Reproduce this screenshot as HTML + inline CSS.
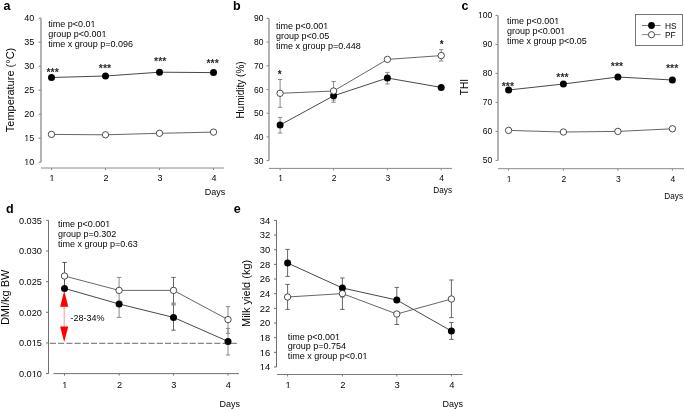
<!DOCTYPE html>
<html><head><meta charset="utf-8"><style>
html,body{margin:0;padding:0;background:#fff;}
svg{display:block;font-family:"Liberation Sans", sans-serif;will-change:transform;}
</style></head><body>
<svg width="685" height="410" viewBox="0 0 685 410">
<rect width="685" height="410" fill="#fff"/>
<line x1="41.00" y1="18.20" x2="41.00" y2="162.20" stroke="#8a8a8a" stroke-width="1.3" />
<line x1="38.50" y1="162.20" x2="41.00" y2="162.20" stroke="#8a8a8a" stroke-width="1" />
<text x="34.20" y="165.39" font-size="9" text-anchor="end" font-weight="normal" fill="#050505"  class="nf">10</text>
<line x1="38.50" y1="138.20" x2="41.00" y2="138.20" stroke="#8a8a8a" stroke-width="1" />
<text x="34.20" y="141.39" font-size="9" text-anchor="end" font-weight="normal" fill="#050505"  class="nf">15</text>
<line x1="38.50" y1="114.20" x2="41.00" y2="114.20" stroke="#8a8a8a" stroke-width="1" />
<text x="34.20" y="117.39" font-size="9" text-anchor="end" font-weight="normal" fill="#050505" >20</text>
<line x1="38.50" y1="90.20" x2="41.00" y2="90.20" stroke="#8a8a8a" stroke-width="1" />
<text x="34.20" y="93.39" font-size="9" text-anchor="end" font-weight="normal" fill="#050505" >25</text>
<line x1="38.50" y1="66.20" x2="41.00" y2="66.20" stroke="#8a8a8a" stroke-width="1" />
<text x="34.20" y="69.39" font-size="9" text-anchor="end" font-weight="normal" fill="#050505" >30</text>
<line x1="38.50" y1="42.20" x2="41.00" y2="42.20" stroke="#8a8a8a" stroke-width="1" />
<text x="34.20" y="45.39" font-size="9" text-anchor="end" font-weight="normal" fill="#050505" >35</text>
<line x1="38.50" y1="18.20" x2="41.00" y2="18.20" stroke="#8a8a8a" stroke-width="1" />
<text x="34.20" y="21.39" font-size="9" text-anchor="end" font-weight="normal" fill="#050505" >40</text>
<line x1="41.00" y1="168.00" x2="224.00" y2="168.00" stroke="#8a8a8a" stroke-width="1" />
<line x1="51.50" y1="168.00" x2="51.50" y2="170.00" stroke="#8a8a8a" stroke-width="1" />
<text x="51.90" y="181.00" font-size="9" text-anchor="middle" font-weight="normal" fill="#050505"  class="nf">1</text>
<line x1="105.50" y1="168.00" x2="105.50" y2="170.00" stroke="#8a8a8a" stroke-width="1" />
<text x="105.90" y="181.00" font-size="9" text-anchor="middle" font-weight="normal" fill="#050505" >2</text>
<line x1="159.50" y1="168.00" x2="159.50" y2="170.00" stroke="#8a8a8a" stroke-width="1" />
<text x="159.90" y="181.00" font-size="9" text-anchor="middle" font-weight="normal" fill="#050505" >3</text>
<line x1="213.50" y1="168.00" x2="213.50" y2="170.00" stroke="#8a8a8a" stroke-width="1" />
<text x="213.90" y="181.00" font-size="9" text-anchor="middle" font-weight="normal" fill="#050505" >4</text>
<text x="225.30" y="194.60" font-size="9" text-anchor="end" font-weight="normal" fill="#050505" >Days</text>
<text x="0" y="0" font-size="11" text-anchor="middle" fill="#050505" transform="translate(14.40,90.00) rotate(-90)">Temperature (°C)</text>
<text x="3.60" y="9.90" font-size="12.5" text-anchor="start" font-weight="bold" fill="#000" >a</text>
<text x="48.30" y="27.20" font-size="9" text-anchor="start" font-weight="normal" fill="#050505"  class="nf">time p&lt;0.01</text>
<text x="48.30" y="37.10" font-size="9" text-anchor="start" font-weight="normal" fill="#050505"  class="nf">group p&lt;0.001</text>
<text x="48.30" y="47.00" font-size="9" text-anchor="start" font-weight="normal" fill="#050505" >time x group p=0.096</text>
<polyline points="51.50,77.50 105.50,76.00 159.50,72.20 213.50,72.60" fill="none" stroke="#333" stroke-width="0.9"/>
<polyline points="51.50,134.40 105.50,134.80 159.50,133.30 213.50,132.10" fill="none" stroke="#555" stroke-width="0.9"/>
<circle cx="51.50" cy="77.50" r="3.5" fill="#000"/>
<circle cx="105.50" cy="76.00" r="3.5" fill="#000"/>
<circle cx="159.50" cy="72.20" r="3.5" fill="#000"/>
<circle cx="213.50" cy="72.60" r="3.5" fill="#000"/>
<circle cx="51.50" cy="134.40" r="3.20" fill="#fff" stroke="#222" stroke-width="0.8"/>
<circle cx="105.50" cy="134.80" r="3.20" fill="#fff" stroke="#222" stroke-width="0.8"/>
<circle cx="159.50" cy="133.30" r="3.20" fill="#fff" stroke="#222" stroke-width="0.8"/>
<circle cx="213.50" cy="132.10" r="3.20" fill="#fff" stroke="#222" stroke-width="0.8"/>
<text x="52.60" y="75.83" font-size="10.5" text-anchor="middle" font-weight="bold" fill="#2a2a2a" >***</text>
<text x="104.95" y="72.33" font-size="10.5" text-anchor="middle" font-weight="bold" fill="#2a2a2a" >***</text>
<text x="160.20" y="65.23" font-size="10.5" text-anchor="middle" font-weight="bold" fill="#2a2a2a" >***</text>
<text x="212.60" y="67.33" font-size="10.5" text-anchor="middle" font-weight="bold" fill="#2a2a2a" >***</text>
<line x1="269.00" y1="18.40" x2="269.00" y2="160.60" stroke="#8a8a8a" stroke-width="1.3" />
<line x1="266.50" y1="160.60" x2="269.00" y2="160.60" stroke="#8a8a8a" stroke-width="1" />
<text x="263.50" y="163.62" font-size="8.5" text-anchor="end" font-weight="normal" fill="#050505" >30</text>
<line x1="266.50" y1="136.90" x2="269.00" y2="136.90" stroke="#8a8a8a" stroke-width="1" />
<text x="263.50" y="139.92" font-size="8.5" text-anchor="end" font-weight="normal" fill="#050505" >40</text>
<line x1="266.50" y1="113.20" x2="269.00" y2="113.20" stroke="#8a8a8a" stroke-width="1" />
<text x="263.50" y="116.22" font-size="8.5" text-anchor="end" font-weight="normal" fill="#050505" >50</text>
<line x1="266.50" y1="89.50" x2="269.00" y2="89.50" stroke="#8a8a8a" stroke-width="1" />
<text x="263.50" y="92.52" font-size="8.5" text-anchor="end" font-weight="normal" fill="#050505" >60</text>
<line x1="266.50" y1="65.80" x2="269.00" y2="65.80" stroke="#8a8a8a" stroke-width="1" />
<text x="263.50" y="68.82" font-size="8.5" text-anchor="end" font-weight="normal" fill="#050505" >70</text>
<line x1="266.50" y1="42.10" x2="269.00" y2="42.10" stroke="#8a8a8a" stroke-width="1" />
<text x="263.50" y="45.12" font-size="8.5" text-anchor="end" font-weight="normal" fill="#050505" >80</text>
<line x1="266.50" y1="18.40" x2="269.00" y2="18.40" stroke="#8a8a8a" stroke-width="1" />
<text x="263.50" y="21.42" font-size="8.5" text-anchor="end" font-weight="normal" fill="#050505" >90</text>
<line x1="269.00" y1="168.40" x2="452.00" y2="168.40" stroke="#8a8a8a" stroke-width="1" />
<line x1="280.10" y1="168.40" x2="280.10" y2="170.40" stroke="#8a8a8a" stroke-width="1" />
<text x="280.50" y="181.02" font-size="8.5" text-anchor="middle" font-weight="normal" fill="#050505"  class="nf">1</text>
<line x1="333.60" y1="168.40" x2="333.60" y2="170.40" stroke="#8a8a8a" stroke-width="1" />
<text x="334.00" y="181.02" font-size="8.5" text-anchor="middle" font-weight="normal" fill="#050505" >2</text>
<line x1="387.40" y1="168.40" x2="387.40" y2="170.40" stroke="#8a8a8a" stroke-width="1" />
<text x="387.80" y="181.02" font-size="8.5" text-anchor="middle" font-weight="normal" fill="#050505" >3</text>
<line x1="441.20" y1="168.40" x2="441.20" y2="170.40" stroke="#8a8a8a" stroke-width="1" />
<text x="441.60" y="181.02" font-size="8.5" text-anchor="middle" font-weight="normal" fill="#050505" >4</text>
<text x="452.00" y="193.40" font-size="8.2" text-anchor="end" font-weight="normal" fill="#050505" >Days</text>
<text x="0" y="0" font-size="10" text-anchor="middle" fill="#050505" transform="translate(244.00,90.00) rotate(-90)">Humidity (%)</text>
<text x="232.90" y="9.90" font-size="12.5" text-anchor="start" font-weight="bold" fill="#000" >b</text>
<text x="276.00" y="29.20" font-size="9" text-anchor="start" font-weight="normal" fill="#050505"  class="nf">time p&lt;0.001</text>
<text x="276.00" y="39.10" font-size="9" text-anchor="start" font-weight="normal" fill="#050505" >group p&lt;0.05</text>
<text x="276.00" y="49.00" font-size="9" text-anchor="start" font-weight="normal" fill="#050505" >time x group p=0.448</text>
<line x1="280.10" y1="79.50" x2="280.10" y2="107.30" stroke="#8a8a8a" stroke-width="1" />
<line x1="277.90" y1="79.50" x2="282.30" y2="79.50" stroke="#8a8a8a" stroke-width="1" />
<line x1="277.90" y1="107.30" x2="282.30" y2="107.30" stroke="#8a8a8a" stroke-width="1" />
<line x1="280.10" y1="117.40" x2="280.10" y2="133.00" stroke="#8a8a8a" stroke-width="1" />
<line x1="277.90" y1="117.40" x2="282.30" y2="117.40" stroke="#8a8a8a" stroke-width="1" />
<line x1="277.90" y1="133.00" x2="282.30" y2="133.00" stroke="#8a8a8a" stroke-width="1" />
<line x1="333.60" y1="81.50" x2="333.60" y2="100.00" stroke="#8a8a8a" stroke-width="1" />
<line x1="331.40" y1="81.50" x2="335.80" y2="81.50" stroke="#8a8a8a" stroke-width="1" />
<line x1="331.40" y1="100.00" x2="335.80" y2="100.00" stroke="#8a8a8a" stroke-width="1" />
<line x1="333.60" y1="91.00" x2="333.60" y2="102.20" stroke="#8a8a8a" stroke-width="1" />
<line x1="331.40" y1="91.00" x2="335.80" y2="91.00" stroke="#8a8a8a" stroke-width="1" />
<line x1="331.40" y1="102.20" x2="335.80" y2="102.20" stroke="#8a8a8a" stroke-width="1" />
<line x1="387.40" y1="72.40" x2="387.40" y2="84.00" stroke="#8a8a8a" stroke-width="1" />
<line x1="385.20" y1="72.40" x2="389.60" y2="72.40" stroke="#8a8a8a" stroke-width="1" />
<line x1="385.20" y1="84.00" x2="389.60" y2="84.00" stroke="#8a8a8a" stroke-width="1" />
<line x1="441.20" y1="49.60" x2="441.20" y2="61.00" stroke="#8a8a8a" stroke-width="1" />
<line x1="439.00" y1="49.60" x2="443.40" y2="49.60" stroke="#8a8a8a" stroke-width="1" />
<line x1="439.00" y1="61.00" x2="443.40" y2="61.00" stroke="#8a8a8a" stroke-width="1" />
<polyline points="280.10,125.00 333.60,95.80 387.40,78.00 441.20,87.40" fill="none" stroke="#333" stroke-width="0.9"/>
<polyline points="280.10,93.30 333.60,91.00 387.40,59.40 441.20,55.60" fill="none" stroke="#555" stroke-width="0.9"/>
<circle cx="280.10" cy="125.00" r="3.5" fill="#000"/>
<circle cx="333.60" cy="95.80" r="3.5" fill="#000"/>
<circle cx="387.40" cy="78.00" r="3.5" fill="#000"/>
<circle cx="441.20" cy="87.40" r="3.5" fill="#000"/>
<circle cx="280.10" cy="93.30" r="3.20" fill="#fff" stroke="#222" stroke-width="0.8"/>
<circle cx="333.60" cy="91.00" r="3.20" fill="#fff" stroke="#222" stroke-width="0.8"/>
<circle cx="387.40" cy="59.40" r="3.20" fill="#fff" stroke="#222" stroke-width="0.8"/>
<circle cx="441.20" cy="55.60" r="3.20" fill="#fff" stroke="#222" stroke-width="0.8"/>
<text x="279.80" y="78.38" font-size="10" text-anchor="middle" font-weight="bold" fill="#111" >*</text>
<text x="441.70" y="47.58" font-size="10" text-anchor="middle" font-weight="bold" fill="#111" >*</text>
<line x1="498.00" y1="15.40" x2="498.00" y2="160.40" stroke="#8a8a8a" stroke-width="1.3" />
<line x1="495.50" y1="160.40" x2="498.00" y2="160.40" stroke="#8a8a8a" stroke-width="1" />
<text x="492.30" y="163.42" font-size="8.5" text-anchor="end" font-weight="normal" fill="#050505" >50</text>
<line x1="495.50" y1="131.40" x2="498.00" y2="131.40" stroke="#8a8a8a" stroke-width="1" />
<text x="492.30" y="134.42" font-size="8.5" text-anchor="end" font-weight="normal" fill="#050505" >60</text>
<line x1="495.50" y1="102.40" x2="498.00" y2="102.40" stroke="#8a8a8a" stroke-width="1" />
<text x="492.30" y="105.42" font-size="8.5" text-anchor="end" font-weight="normal" fill="#050505" >70</text>
<line x1="495.50" y1="73.40" x2="498.00" y2="73.40" stroke="#8a8a8a" stroke-width="1" />
<text x="492.30" y="76.42" font-size="8.5" text-anchor="end" font-weight="normal" fill="#050505" >80</text>
<line x1="495.50" y1="44.40" x2="498.00" y2="44.40" stroke="#8a8a8a" stroke-width="1" />
<text x="492.30" y="47.42" font-size="8.5" text-anchor="end" font-weight="normal" fill="#050505" >90</text>
<line x1="495.50" y1="15.40" x2="498.00" y2="15.40" stroke="#8a8a8a" stroke-width="1" />
<text x="492.30" y="18.42" font-size="8.5" text-anchor="end" font-weight="normal" fill="#050505"  class="nf">100</text>
<line x1="498.00" y1="168.70" x2="684.00" y2="168.70" stroke="#8a8a8a" stroke-width="1" />
<line x1="508.60" y1="168.70" x2="508.60" y2="170.70" stroke="#8a8a8a" stroke-width="1" />
<text x="509.00" y="182.42" font-size="8.5" text-anchor="middle" font-weight="normal" fill="#050505"  class="nf">1</text>
<line x1="563.40" y1="168.70" x2="563.40" y2="170.70" stroke="#8a8a8a" stroke-width="1" />
<text x="563.80" y="182.42" font-size="8.5" text-anchor="middle" font-weight="normal" fill="#050505" >2</text>
<line x1="617.90" y1="168.70" x2="617.90" y2="170.70" stroke="#8a8a8a" stroke-width="1" />
<text x="618.30" y="182.42" font-size="8.5" text-anchor="middle" font-weight="normal" fill="#050505" >3</text>
<line x1="672.40" y1="168.70" x2="672.40" y2="170.70" stroke="#8a8a8a" stroke-width="1" />
<text x="672.80" y="182.42" font-size="8.5" text-anchor="middle" font-weight="normal" fill="#050505" >4</text>
<text x="683.00" y="199.00" font-size="8.2" text-anchor="end" font-weight="normal" fill="#050505" >Days</text>
<text x="0" y="0" font-size="10" text-anchor="middle" fill="#050505" transform="translate(468.00,87.10) rotate(-90)">THI</text>
<text x="461.60" y="10.10" font-size="12.5" text-anchor="start" font-weight="bold" fill="#000" >c</text>
<text x="507.00" y="23.80" font-size="9" text-anchor="start" font-weight="normal" fill="#050505"  class="nf">time p&lt;0.001</text>
<text x="507.00" y="33.90" font-size="9" text-anchor="start" font-weight="normal" fill="#050505"  class="nf">group p&lt;0.001</text>
<text x="507.00" y="44.00" font-size="9" text-anchor="start" font-weight="normal" fill="#050505" >time x group p&lt;0.05</text>
<polyline points="508.60,90.00 563.40,84.00 617.90,77.00 672.40,80.00" fill="none" stroke="#333" stroke-width="0.9"/>
<polyline points="508.60,130.40 563.40,132.00 617.90,131.40 672.40,128.80" fill="none" stroke="#555" stroke-width="0.9"/>
<circle cx="508.60" cy="90.00" r="3.5" fill="#000"/>
<circle cx="563.40" cy="84.00" r="3.5" fill="#000"/>
<circle cx="617.90" cy="77.00" r="3.5" fill="#000"/>
<circle cx="672.40" cy="80.00" r="3.5" fill="#000"/>
<circle cx="508.60" cy="130.40" r="3.20" fill="#fff" stroke="#222" stroke-width="0.8"/>
<circle cx="563.40" cy="132.00" r="3.20" fill="#fff" stroke="#222" stroke-width="0.8"/>
<circle cx="617.90" cy="131.40" r="3.20" fill="#fff" stroke="#222" stroke-width="0.8"/>
<circle cx="672.40" cy="128.80" r="3.20" fill="#fff" stroke="#222" stroke-width="0.8"/>
<text x="507.90" y="90.03" font-size="10.5" text-anchor="middle" font-weight="bold" fill="#2a2a2a" >***</text>
<text x="562.50" y="81.03" font-size="10.5" text-anchor="middle" font-weight="bold" fill="#2a2a2a" >***</text>
<text x="617.00" y="70.43" font-size="10.5" text-anchor="middle" font-weight="bold" fill="#2a2a2a" >***</text>
<text x="672.10" y="72.03" font-size="10.5" text-anchor="middle" font-weight="bold" fill="#2a2a2a" >***</text>
<rect x="635.5" y="14.5" width="47" height="31" fill="#fff" stroke="#555" stroke-width="0.8"/>
<line x1="642.00" y1="25.50" x2="660.60" y2="25.50" stroke="#666" stroke-width="0.9" />
<circle cx="651.50" cy="25.50" r="3.4" fill="#000"/>
<line x1="642.00" y1="34.60" x2="660.60" y2="34.60" stroke="#777" stroke-width="0.9" />
<circle cx="651.50" cy="34.70" r="3.10" fill="#fff" stroke="#222" stroke-width="0.8"/>
<text x="664.90" y="28.60" font-size="8.4" text-anchor="start" font-weight="normal" fill="#050505" >HS</text>
<text x="664.90" y="37.80" font-size="8.4" text-anchor="start" font-weight="normal" fill="#050505" >PF</text>
<line x1="48.50" y1="220.40" x2="48.50" y2="373.60" stroke="#707070" stroke-width="1" />
<line x1="46.00" y1="373.60" x2="48.50" y2="373.60" stroke="#707070" stroke-width="1" />
<text x="41.90" y="376.87" font-size="9.2" text-anchor="end" font-weight="normal" fill="#050505"  class="nf">0.010</text>
<line x1="46.00" y1="342.96" x2="48.50" y2="342.96" stroke="#707070" stroke-width="1" />
<text x="41.90" y="346.23" font-size="9.2" text-anchor="end" font-weight="normal" fill="#050505"  class="nf">0.015</text>
<line x1="46.00" y1="312.32" x2="48.50" y2="312.32" stroke="#707070" stroke-width="1" />
<text x="41.90" y="315.59" font-size="9.2" text-anchor="end" font-weight="normal" fill="#050505" >0.020</text>
<line x1="46.00" y1="281.68" x2="48.50" y2="281.68" stroke="#707070" stroke-width="1" />
<text x="41.90" y="284.95" font-size="9.2" text-anchor="end" font-weight="normal" fill="#050505" >0.025</text>
<line x1="46.00" y1="251.04" x2="48.50" y2="251.04" stroke="#707070" stroke-width="1" />
<text x="41.90" y="254.31" font-size="9.2" text-anchor="end" font-weight="normal" fill="#050505" >0.030</text>
<line x1="46.00" y1="220.40" x2="48.50" y2="220.40" stroke="#707070" stroke-width="1" />
<text x="41.90" y="223.67" font-size="9.2" text-anchor="end" font-weight="normal" fill="#050505" >0.035</text>
<line x1="53.50" y1="373.60" x2="239.00" y2="373.60" stroke="#707070" stroke-width="1" />
<line x1="64.50" y1="373.60" x2="64.50" y2="375.60" stroke="#707070" stroke-width="1" />
<text x="64.90" y="387.87" font-size="9.2" text-anchor="middle" font-weight="normal" fill="#050505"  class="nf">1</text>
<line x1="119.10" y1="373.60" x2="119.10" y2="375.60" stroke="#707070" stroke-width="1" />
<text x="119.50" y="387.87" font-size="9.2" text-anchor="middle" font-weight="normal" fill="#050505" >2</text>
<line x1="173.50" y1="373.60" x2="173.50" y2="375.60" stroke="#707070" stroke-width="1" />
<text x="173.90" y="387.87" font-size="9.2" text-anchor="middle" font-weight="normal" fill="#050505" >3</text>
<line x1="228.00" y1="373.60" x2="228.00" y2="375.60" stroke="#707070" stroke-width="1" />
<text x="228.40" y="387.87" font-size="9.2" text-anchor="middle" font-weight="normal" fill="#050505" >4</text>
<text x="240.00" y="406.60" font-size="9" text-anchor="end" font-weight="normal" fill="#050505" >Days</text>
<text x="0" y="0" font-size="11" text-anchor="middle" fill="#050505" transform="translate(9.40,297.30) rotate(-90)">DMI/kg BW</text>
<text x="6.00" y="213.40" font-size="12.5" text-anchor="start" font-weight="bold" fill="#000" >d</text>
<text x="58.00" y="227.00" font-size="9" text-anchor="start" font-weight="normal" fill="#050505"  class="nf">time p&lt;0.001</text>
<text x="58.00" y="237.00" font-size="9" text-anchor="start" font-weight="normal" fill="#050505" >group p=0.302</text>
<text x="58.00" y="247.00" font-size="9" text-anchor="start" font-weight="normal" fill="#050505" >time x group p=0.63</text>
<line x1="64.50" y1="262.40" x2="64.50" y2="276.00" stroke="#555" stroke-width="1" />
<line x1="62.30" y1="262.40" x2="66.70" y2="262.40" stroke="#555" stroke-width="1" />
<line x1="62.30" y1="276.00" x2="66.70" y2="276.00" stroke="#555" stroke-width="1" />
<line x1="64.50" y1="276.00" x2="64.50" y2="288.40" stroke="#555" stroke-width="1" />
<line x1="119.10" y1="277.40" x2="119.10" y2="317.40" stroke="#8a8a8a" stroke-width="1" />
<line x1="116.90" y1="277.40" x2="121.30" y2="277.40" stroke="#8a8a8a" stroke-width="1" />
<line x1="116.90" y1="317.40" x2="121.30" y2="317.40" stroke="#8a8a8a" stroke-width="1" />
<line x1="173.50" y1="277.40" x2="173.50" y2="303.20" stroke="#666" stroke-width="1" />
<line x1="171.30" y1="277.40" x2="175.70" y2="277.40" stroke="#666" stroke-width="1" />
<line x1="171.30" y1="303.20" x2="175.70" y2="303.20" stroke="#666" stroke-width="1" />
<line x1="173.50" y1="304.80" x2="173.50" y2="330.20" stroke="#666" stroke-width="1" />
<line x1="171.30" y1="304.80" x2="175.70" y2="304.80" stroke="#666" stroke-width="1" />
<line x1="171.30" y1="330.20" x2="175.70" y2="330.20" stroke="#666" stroke-width="1" />
<line x1="228.00" y1="306.60" x2="228.00" y2="333.40" stroke="#8a8a8a" stroke-width="1" />
<line x1="225.80" y1="306.60" x2="230.20" y2="306.60" stroke="#8a8a8a" stroke-width="1" />
<line x1="225.80" y1="333.40" x2="230.20" y2="333.40" stroke="#8a8a8a" stroke-width="1" />
<line x1="228.00" y1="328.40" x2="228.00" y2="355.00" stroke="#8a8a8a" stroke-width="1" />
<line x1="225.80" y1="328.40" x2="230.20" y2="328.40" stroke="#8a8a8a" stroke-width="1" />
<line x1="225.80" y1="355.00" x2="230.20" y2="355.00" stroke="#8a8a8a" stroke-width="1" />
<line x1="49.90" y1="343.30" x2="238.00" y2="343.30" stroke="#6a6a6a" stroke-width="1" stroke-dasharray="6.1,2.12"/>
<polyline points="64.50,288.40 119.10,304.00 173.50,317.40 228.00,341.40" fill="none" stroke="#333" stroke-width="0.9"/>
<polyline points="64.50,276.00 119.10,290.40 173.50,290.40 228.00,319.60" fill="none" stroke="#555" stroke-width="0.9"/>
<circle cx="64.50" cy="288.40" r="3.5" fill="#000"/>
<circle cx="119.10" cy="304.00" r="3.5" fill="#000"/>
<circle cx="173.50" cy="317.40" r="3.5" fill="#000"/>
<circle cx="228.00" cy="341.40" r="3.5" fill="#000"/>
<circle cx="64.50" cy="276.00" r="3.20" fill="#fff" stroke="#222" stroke-width="0.8"/>
<circle cx="119.10" cy="290.40" r="3.20" fill="#fff" stroke="#222" stroke-width="0.8"/>
<circle cx="173.50" cy="290.40" r="3.20" fill="#fff" stroke="#222" stroke-width="0.8"/>
<circle cx="228.00" cy="319.60" r="3.20" fill="#fff" stroke="#222" stroke-width="0.8"/>
<line x1="64.20" y1="300.00" x2="64.20" y2="330.00" stroke="#f66" stroke-width="0.7" />
<polygon points="64.2,291 60.1,306.8 68.3,306.8" fill="#ff0000"/>
<polygon points="64.2,342 60.1,326.4 68.3,326.4" fill="#ff0000"/>
<text x="70.40" y="321.20" font-size="9" text-anchor="start" font-weight="normal" fill="#050505" >-28-34%</text>
<line x1="276.50" y1="220.40" x2="276.50" y2="367.00" stroke="#6e6e6e" stroke-width="1" />
<line x1="274.00" y1="367.00" x2="276.50" y2="367.00" stroke="#6e6e6e" stroke-width="1" />
<text x="270.20" y="370.34" font-size="9.4" text-anchor="end" font-weight="normal" fill="#050505"  class="nf">14</text>
<line x1="274.00" y1="352.34" x2="276.50" y2="352.34" stroke="#6e6e6e" stroke-width="1" />
<text x="270.20" y="355.68" font-size="9.4" text-anchor="end" font-weight="normal" fill="#050505"  class="nf">16</text>
<line x1="274.00" y1="337.68" x2="276.50" y2="337.68" stroke="#6e6e6e" stroke-width="1" />
<text x="270.20" y="341.02" font-size="9.4" text-anchor="end" font-weight="normal" fill="#050505"  class="nf">18</text>
<line x1="274.00" y1="323.02" x2="276.50" y2="323.02" stroke="#6e6e6e" stroke-width="1" />
<text x="270.20" y="326.36" font-size="9.4" text-anchor="end" font-weight="normal" fill="#050505" >20</text>
<line x1="274.00" y1="308.36" x2="276.50" y2="308.36" stroke="#6e6e6e" stroke-width="1" />
<text x="270.20" y="311.70" font-size="9.4" text-anchor="end" font-weight="normal" fill="#050505" >22</text>
<line x1="274.00" y1="293.70" x2="276.50" y2="293.70" stroke="#6e6e6e" stroke-width="1" />
<text x="270.20" y="297.04" font-size="9.4" text-anchor="end" font-weight="normal" fill="#050505" >24</text>
<line x1="274.00" y1="279.04" x2="276.50" y2="279.04" stroke="#6e6e6e" stroke-width="1" />
<text x="270.20" y="282.38" font-size="9.4" text-anchor="end" font-weight="normal" fill="#050505" >26</text>
<line x1="274.00" y1="264.38" x2="276.50" y2="264.38" stroke="#6e6e6e" stroke-width="1" />
<text x="270.20" y="267.72" font-size="9.4" text-anchor="end" font-weight="normal" fill="#050505" >28</text>
<line x1="274.00" y1="249.72" x2="276.50" y2="249.72" stroke="#6e6e6e" stroke-width="1" />
<text x="270.20" y="253.06" font-size="9.4" text-anchor="end" font-weight="normal" fill="#050505" >30</text>
<line x1="274.00" y1="235.06" x2="276.50" y2="235.06" stroke="#6e6e6e" stroke-width="1" />
<text x="270.20" y="238.40" font-size="9.4" text-anchor="end" font-weight="normal" fill="#050505" >32</text>
<line x1="274.00" y1="220.40" x2="276.50" y2="220.40" stroke="#6e6e6e" stroke-width="1" />
<text x="270.20" y="223.74" font-size="9.4" text-anchor="end" font-weight="normal" fill="#050505" >34</text>
<line x1="277.00" y1="374.50" x2="462.60" y2="374.50" stroke="#7a7a7a" stroke-width="1" />
<line x1="287.60" y1="374.50" x2="287.60" y2="376.50" stroke="#7a7a7a" stroke-width="1" />
<text x="288.00" y="388.34" font-size="9.4" text-anchor="middle" font-weight="normal" fill="#050505"  class="nf">1</text>
<line x1="342.40" y1="374.50" x2="342.40" y2="376.50" stroke="#7a7a7a" stroke-width="1" />
<text x="342.80" y="388.34" font-size="9.4" text-anchor="middle" font-weight="normal" fill="#050505" >2</text>
<line x1="396.80" y1="374.50" x2="396.80" y2="376.50" stroke="#7a7a7a" stroke-width="1" />
<text x="397.20" y="388.34" font-size="9.4" text-anchor="middle" font-weight="normal" fill="#050505" >3</text>
<line x1="451.40" y1="374.50" x2="451.40" y2="376.50" stroke="#7a7a7a" stroke-width="1" />
<text x="451.80" y="388.34" font-size="9.4" text-anchor="middle" font-weight="normal" fill="#050505" >4</text>
<text x="463.00" y="406.60" font-size="9" text-anchor="end" font-weight="normal" fill="#050505" >Days</text>
<text x="0" y="0" font-size="11" text-anchor="middle" fill="#050505" transform="translate(249.50,293.40) rotate(-90)">Milk yield (kg)</text>
<text x="233.70" y="213.30" font-size="12.5" text-anchor="start" font-weight="bold" fill="#000" >e</text>
<text x="287.80" y="339.50" font-size="9" text-anchor="start" font-weight="normal" fill="#050505"  class="nf">time p&lt;0.001</text>
<text x="287.80" y="349.40" font-size="9" text-anchor="start" font-weight="normal" fill="#050505" >group p=0.754</text>
<text x="287.80" y="359.30" font-size="9" text-anchor="start" font-weight="normal" fill="#050505"  class="nf">time x group p&lt;0.01</text>
<line x1="287.60" y1="249.40" x2="287.60" y2="276.40" stroke="#666" stroke-width="1" />
<line x1="285.40" y1="249.40" x2="289.80" y2="249.40" stroke="#666" stroke-width="1" />
<line x1="285.40" y1="276.40" x2="289.80" y2="276.40" stroke="#666" stroke-width="1" />
<line x1="287.60" y1="284.40" x2="287.60" y2="309.40" stroke="#666" stroke-width="1" />
<line x1="285.40" y1="284.40" x2="289.80" y2="284.40" stroke="#666" stroke-width="1" />
<line x1="285.40" y1="309.40" x2="289.80" y2="309.40" stroke="#666" stroke-width="1" />
<line x1="342.40" y1="278.00" x2="342.40" y2="297.00" stroke="#666" stroke-width="1" />
<line x1="340.20" y1="278.00" x2="344.60" y2="278.00" stroke="#666" stroke-width="1" />
<line x1="340.20" y1="297.00" x2="344.60" y2="297.00" stroke="#666" stroke-width="1" />
<line x1="342.40" y1="293.60" x2="342.40" y2="309.40" stroke="#666" stroke-width="1" />
<line x1="340.20" y1="293.60" x2="344.60" y2="293.60" stroke="#666" stroke-width="1" />
<line x1="340.20" y1="309.40" x2="344.60" y2="309.40" stroke="#666" stroke-width="1" />
<line x1="396.80" y1="287.40" x2="396.80" y2="300.00" stroke="#666" stroke-width="1" />
<line x1="394.60" y1="287.40" x2="399.00" y2="287.40" stroke="#666" stroke-width="1" />
<line x1="394.60" y1="300.00" x2="399.00" y2="300.00" stroke="#666" stroke-width="1" />
<line x1="396.80" y1="314.00" x2="396.80" y2="324.50" stroke="#666" stroke-width="1" />
<line x1="394.60" y1="314.00" x2="399.00" y2="314.00" stroke="#666" stroke-width="1" />
<line x1="394.60" y1="324.50" x2="399.00" y2="324.50" stroke="#666" stroke-width="1" />
<line x1="451.40" y1="280.00" x2="451.40" y2="317.60" stroke="#666" stroke-width="1" />
<line x1="449.20" y1="280.00" x2="453.60" y2="280.00" stroke="#666" stroke-width="1" />
<line x1="449.20" y1="317.60" x2="453.60" y2="317.60" stroke="#666" stroke-width="1" />
<line x1="451.40" y1="322.40" x2="451.40" y2="339.40" stroke="#666" stroke-width="1" />
<line x1="449.20" y1="322.40" x2="453.60" y2="322.40" stroke="#666" stroke-width="1" />
<line x1="449.20" y1="339.40" x2="453.60" y2="339.40" stroke="#666" stroke-width="1" />
<polyline points="287.60,263.00 342.40,288.00 396.80,300.00 451.40,331.00" fill="none" stroke="#333" stroke-width="0.9"/>
<polyline points="287.60,297.00 342.40,293.60 396.80,314.00 451.40,299.00" fill="none" stroke="#555" stroke-width="0.9"/>
<circle cx="287.60" cy="263.00" r="3.5" fill="#000"/>
<circle cx="342.40" cy="288.00" r="3.5" fill="#000"/>
<circle cx="396.80" cy="300.00" r="3.5" fill="#000"/>
<circle cx="451.40" cy="331.00" r="3.5" fill="#000"/>
<circle cx="287.60" cy="297.00" r="3.20" fill="#fff" stroke="#222" stroke-width="0.8"/>
<circle cx="342.40" cy="293.60" r="3.20" fill="#fff" stroke="#222" stroke-width="0.8"/>
<circle cx="396.80" cy="314.00" r="3.20" fill="#fff" stroke="#222" stroke-width="0.8"/>
<circle cx="451.40" cy="299.00" r="3.20" fill="#fff" stroke="#222" stroke-width="0.8"/>
<rect x="23.78" y="164.18" width="2.62" height="1.37" fill="#fff"/>
<rect x="27.29" y="164.18" width="1.73" height="1.37" fill="#fff"/>
<rect x="23.78" y="140.18" width="2.62" height="1.37" fill="#fff"/>
<rect x="27.29" y="140.18" width="1.73" height="1.37" fill="#fff"/>
<rect x="48.99" y="180.18" width="2.62" height="1.37" fill="#fff"/>
<rect x="52.49" y="180.18" width="1.73" height="1.37" fill="#fff"/>
<rect x="90.17" y="26.18" width="2.62" height="1.37" fill="#fff"/>
<rect x="93.67" y="26.18" width="1.73" height="1.37" fill="#fff"/>
<rect x="101.20" y="36.18" width="2.62" height="1.37" fill="#fff"/>
<rect x="104.70" y="36.18" width="1.73" height="1.37" fill="#fff"/>
<rect x="277.73" y="180.21" width="2.50" height="1.34" fill="#fff"/>
<rect x="281.06" y="180.21" width="1.64" height="1.34" fill="#fff"/>
<rect x="322.87" y="28.18" width="2.62" height="1.37" fill="#fff"/>
<rect x="326.37" y="28.18" width="1.73" height="1.37" fill="#fff"/>
<rect x="477.71" y="17.21" width="2.50" height="1.34" fill="#fff"/>
<rect x="481.04" y="17.21" width="1.64" height="1.34" fill="#fff"/>
<rect x="506.23" y="181.21" width="2.50" height="1.34" fill="#fff"/>
<rect x="509.56" y="181.21" width="1.64" height="1.34" fill="#fff"/>
<rect x="553.87" y="23.18" width="2.62" height="1.37" fill="#fff"/>
<rect x="557.37" y="23.18" width="1.73" height="1.37" fill="#fff"/>
<rect x="559.90" y="33.18" width="2.62" height="1.37" fill="#fff"/>
<rect x="563.40" y="33.18" width="1.73" height="1.37" fill="#fff"/>
<rect x="31.27" y="376.16" width="2.67" height="1.39" fill="#fff"/>
<rect x="34.84" y="376.16" width="1.77" height="1.39" fill="#fff"/>
<rect x="31.27" y="345.16" width="2.67" height="1.39" fill="#fff"/>
<rect x="34.84" y="345.16" width="1.77" height="1.39" fill="#fff"/>
<rect x="61.94" y="387.16" width="2.67" height="1.39" fill="#fff"/>
<rect x="65.51" y="387.16" width="1.77" height="1.39" fill="#fff"/>
<rect x="104.87" y="226.18" width="2.62" height="1.37" fill="#fff"/>
<rect x="108.37" y="226.18" width="1.73" height="1.37" fill="#fff"/>
<rect x="259.36" y="369.15" width="2.72" height="1.40" fill="#fff"/>
<rect x="263.00" y="369.15" width="1.81" height="1.40" fill="#fff"/>
<rect x="259.36" y="355.15" width="2.72" height="1.40" fill="#fff"/>
<rect x="263.00" y="355.15" width="1.81" height="1.40" fill="#fff"/>
<rect x="259.36" y="340.15" width="2.72" height="1.40" fill="#fff"/>
<rect x="263.00" y="340.15" width="1.81" height="1.40" fill="#fff"/>
<rect x="284.99" y="387.15" width="2.72" height="1.40" fill="#fff"/>
<rect x="288.63" y="387.15" width="1.81" height="1.40" fill="#fff"/>
<rect x="334.67" y="339.18" width="2.62" height="1.37" fill="#fff"/>
<rect x="338.17" y="339.18" width="1.73" height="1.37" fill="#fff"/>
<rect x="362.18" y="358.18" width="2.62" height="1.37" fill="#fff"/>
<rect x="365.68" y="358.18" width="1.73" height="1.37" fill="#fff"/>
</svg>
</body></html>
